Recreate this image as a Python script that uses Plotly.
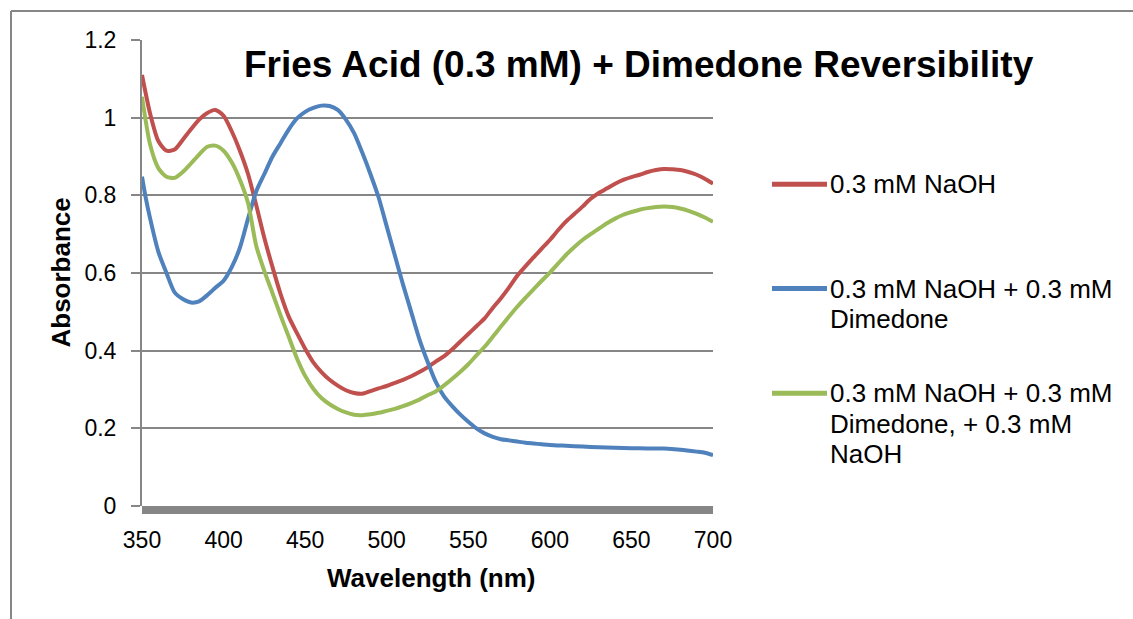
import plotly.graph_objects as go

# Wavelength grids (nm) and absorbance readings for each spectrum
wl_naoh = [350, 355, 360, 365, 370, 375, 380, 385, 390, 395, 400, 405, 410, 415, 420,
           425, 430, 435, 440, 445, 450, 455, 460, 465, 470, 475, 480, 485, 490, 495,
           500, 505, 510, 515, 520, 525, 530, 535, 540, 545, 550, 555, 560, 565, 570,
           575, 580, 585, 590, 595, 600, 605, 610, 615, 620, 625, 630, 635, 640, 645,
           650, 655, 660, 665, 670, 675, 680, 685, 690, 695, 700]
abs_naoh = [1.11, 1.01, 0.94, 0.915, 0.918, 0.943, 0.97, 0.995, 1.012, 1.02, 1.005, 0.965,
            0.915, 0.855, 0.775, 0.69, 0.615, 0.545, 0.487, 0.445, 0.405, 0.37, 0.345,
            0.325, 0.31, 0.298, 0.291, 0.289, 0.296, 0.303, 0.309, 0.317, 0.325, 0.334,
            0.345, 0.357, 0.372, 0.385, 0.403, 0.423, 0.443, 0.463, 0.483, 0.51, 0.535,
            0.563, 0.593, 0.617, 0.64, 0.663, 0.685, 0.71, 0.733, 0.752, 0.771, 0.791,
            0.806, 0.818, 0.83, 0.84, 0.847, 0.853, 0.86, 0.865, 0.868, 0.867, 0.865,
            0.86, 0.853, 0.843, 0.83]

wl_dimedone = [350, 352, 355, 360, 365, 370, 375, 380, 385, 390, 395, 400, 405, 410, 415,
               420, 425, 430, 435, 440, 445, 450, 455, 460, 465, 470, 475, 480, 485, 490,
               495, 500, 505, 510, 515, 520, 525, 530, 535, 540, 545, 550, 555, 560, 565,
               570, 575, 580, 585, 590, 595, 600, 610, 620, 630, 640, 650, 660, 670, 680,
               690, 695, 700]
abs_dimedone = [0.848, 0.80, 0.74, 0.655, 0.60, 0.55, 0.533, 0.524, 0.527, 0.543, 0.562,
                0.58, 0.615, 0.665, 0.74, 0.81, 0.855, 0.9, 0.935, 0.97, 0.998, 1.015,
                1.025, 1.031, 1.03, 1.02, 0.995, 0.96, 0.91, 0.855, 0.795, 0.72, 0.645,
                0.57, 0.5, 0.43, 0.372, 0.32, 0.283, 0.258, 0.236, 0.217, 0.2, 0.187,
                0.178, 0.172, 0.169, 0.166, 0.163, 0.161, 0.159, 0.157, 0.155, 0.153,
                0.151, 0.15, 0.149, 0.148, 0.148, 0.145, 0.14, 0.137, 0.131]

wl_back = [350, 355, 360, 365, 370, 375, 380, 385, 390, 395, 400, 405, 410, 415, 420,
           425, 430, 435, 440, 445, 450, 455, 460, 465, 470, 475, 480, 485, 490, 495,
           500, 505, 510, 515, 520, 525, 530, 535, 540, 545, 550, 555, 560, 565, 570,
           575, 580, 585, 590, 595, 600, 605, 610, 615, 620, 625, 630, 635, 640, 645,
           650, 655, 660, 665, 670, 675, 680, 685, 690, 695, 700]
abs_back = [1.054, 0.93, 0.87, 0.848, 0.845, 0.86, 0.882, 0.905, 0.925, 0.928, 0.915,
            0.885, 0.84, 0.78, 0.67, 0.605, 0.548, 0.49, 0.435, 0.38, 0.335, 0.302,
            0.278, 0.262, 0.25, 0.241, 0.235, 0.234, 0.236, 0.24, 0.245, 0.25, 0.257,
            0.265, 0.274, 0.285, 0.295, 0.31, 0.327, 0.345, 0.365, 0.388, 0.41, 0.436,
            0.462, 0.488, 0.513, 0.536, 0.558, 0.58, 0.601, 0.624, 0.647, 0.667, 0.685,
            0.7, 0.714, 0.728, 0.74, 0.75, 0.757, 0.763, 0.767, 0.77, 0.771, 0.77,
            0.766, 0.76, 0.752, 0.743, 0.732]

series = [
    (["0.3 mM NaOH"], wl_naoh, abs_naoh, "#C0504D"),
    (["0.3 mM NaOH + 0.3 mM", "Dimedone"], wl_dimedone, abs_dimedone, "#4F81BD"),
    (["0.3 mM NaOH + 0.3 mM", "Dimedone, + 0.3 mM", "NaOH"], wl_back, abs_back, "#9BBB59"),
]

x_ticks = [350, 400, 450, 500, 550, 600, 650, 700]
y_ticks = [0, 0.2, 0.4, 0.6, 0.8, 1.0, 1.2]

# Plot-area edges in pixels, used to place decorations in paper coordinates
L, R, T, B = 142, 713, 40, 506
W, H = 1133, 619


def px(x):
    return (x - L) / (R - L)


def py(y):
    return (B - y) / (B - T)


GRID = "#868686"
TEXT_FONT = "Liberation Sans, Arial, sans-serif"

fig = go.Figure()
for names, wl, ab, color in series:
    fig.add_trace(go.Scatter(
        x=wl, y=ab, mode="lines", name=" ".join(names), showlegend=False,
        line=dict(color=color, width=4, shape="spline", smoothing=0.7),
    ))

shapes = [
    # outer chart frame (top and left edges)
    dict(type="line", xref="paper", yref="paper", x0=px(11), x1=px(11),
         y0=py(11), y1=py(H + 10), line=dict(color=GRID, width=2)),
    dict(type="line", xref="paper", yref="paper", x0=px(11), x1=px(W + 10),
         y0=py(11), y1=py(11), line=dict(color=GRID, width=2)),
    # heavy horizontal axis bar along the bottom of the plot area
    dict(type="rect", xref="paper", yref="paper", x0=0, x1=1,
         y0=py(514), y1=0, fillcolor=GRID, line=dict(width=0), layer="above"),
]
annotations = []

# hand-placed legend: a line sample followed by wrapped label lines
legend_rows = [184.3, 288.5, 393.3]
line_gap = 30.5
for (names, _, _, color), y0 in zip(series, legend_rows):
    shapes.append(dict(type="line", xref="paper", yref="paper",
                       x0=px(772), x1=px(827), y0=py(y0), y1=py(y0),
                       line=dict(color=color, width=5)))
    for i, txt in enumerate(names):
        annotations.append(dict(
            text=txt, xref="paper", yref="paper", x=px(828), y=py(y0 + i * line_gap),
            xanchor="left", yanchor="middle", showarrow=False,
            font=dict(family=TEXT_FONT, size=26, color="#000000"),
        ))

annotations += [
    dict(text="<b>Fries Acid (0.3 mM) + Dimedone Reversibility</b>", xref="paper",
         yref="paper", x=px(639), y=py(64), xanchor="center", yanchor="middle",
         showarrow=False, font=dict(family=TEXT_FONT, size=37, color="#000000")),
    dict(text="<b>Wavelength (nm)</b>", xref="paper", yref="paper", x=px(431),
         y=py(578), xanchor="center", yanchor="middle", showarrow=False,
         font=dict(family=TEXT_FONT, size=26, color="#000000")),
    dict(text="<b>Absorbance</b>", xref="paper", yref="paper", x=px(60),
         y=py(272.5), xanchor="center", yanchor="middle", textangle=-90,
         showarrow=False, font=dict(family=TEXT_FONT, size=26, color="#000000")),
]

fig.update_layout(
    width=W, height=H,
    margin=dict(l=L, r=W - R, t=T, b=H - B, autoexpand=False),
    paper_bgcolor="white", plot_bgcolor="white",
    shapes=shapes, annotations=annotations,
    xaxis=dict(
        range=[350, 700], tickvals=x_ticks, showgrid=False, zeroline=False,
        showline=False, ticks="",
        ticklabelstandoff=18,
        tickfont=dict(family=TEXT_FONT, size=23, color="#000000"),
    ),
    yaxis=dict(
        range=[0, 1.2], tickvals=y_ticks, showgrid=True, gridcolor=GRID,
        gridwidth=2, zeroline=False, showline=True, linecolor=GRID, linewidth=2,
        ticks="outside", ticklen=9, tickwidth=2, tickcolor=GRID,
        ticklabelstandoff=10,
        tickfont=dict(family=TEXT_FONT, size=23, color="#000000"),
    ),
)

fig.write_html("out.html")
